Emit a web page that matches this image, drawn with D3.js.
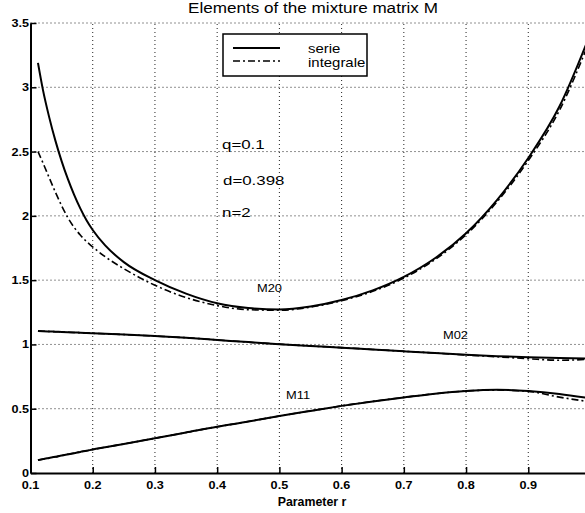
<!DOCTYPE html>
<html>
<head>
<meta charset="utf-8">
<script src="https://cdn.jsdelivr.net/npm/d3@7"></script>
<style>
  html, body { margin: 0; padding: 0; background: #fff; }
  svg { display: block; }
  text { font-family: "Liberation Sans", Arial, Helvetica, sans-serif; fill: #000; }
</style>
</head>
<body>
<script>
// ---- data ----
const rValues = [0.112, 0.12, 0.13, 0.14, 0.15, 0.16, 0.17, 0.18, 0.19, 0.2, 0.22, 0.25, 0.3, 0.35, 0.4, 0.45, 0.5, 0.55, 0.6, 0.65, 0.7, 0.75, 0.8, 0.85, 0.9, 0.95, 1.0];
const m20Serie = [3.19, 2.98, 2.768, 2.585, 2.426, 2.287, 2.165, 2.058, 1.966, 1.89, 1.77, 1.64, 1.50, 1.395, 1.32, 1.283, 1.272, 1.295, 1.345, 1.42, 1.525, 1.67, 1.865, 2.125, 2.45, 2.85, 3.42];
const m20Integrale = [2.50, 2.412, 2.297, 2.184, 2.079, 1.986, 1.911, 1.851, 1.801, 1.758, 1.682, 1.589, 1.46, 1.365, 1.302, 1.27, 1.266, 1.29, 1.34, 1.413, 1.516, 1.66, 1.853, 2.11, 2.43, 2.82, 3.38];
const m02Serie = [1.105, 1.103, 1.101, 1.099, 1.097, 1.095, 1.093, 1.091, 1.089, 1.087, 1.083, 1.077, 1.065, 1.052, 1.035, 1.018, 1.002, 0.988, 0.975, 0.961, 0.947, 0.933, 0.92, 0.909, 0.90, 0.894, 0.89];
const m02Integrale = [1.105, 1.103, 1.101, 1.099, 1.097, 1.095, 1.093, 1.091, 1.089, 1.087, 1.083, 1.077, 1.065, 1.052, 1.035, 1.018, 1.002, 0.988, 0.975, 0.961, 0.947, 0.933, 0.918, 0.904, 0.889, 0.877, 0.885];
const m11Serie = [0.10, 0.108, 0.117, 0.126, 0.136, 0.145, 0.154, 0.164, 0.173, 0.183, 0.20, 0.226, 0.27, 0.315, 0.36, 0.40, 0.443, 0.483, 0.522, 0.557, 0.588, 0.617, 0.638, 0.647, 0.638, 0.615, 0.58];
const m11Integrale = [0.10, 0.108, 0.117, 0.126, 0.136, 0.145, 0.154, 0.164, 0.173, 0.183, 0.20, 0.226, 0.27, 0.315, 0.36, 0.40, 0.443, 0.483, 0.522, 0.557, 0.588, 0.617, 0.638, 0.645, 0.635, 0.59, 0.553];
const xTicks = [0.1, 0.2, 0.3, 0.4, 0.5, 0.6, 0.7, 0.8, 0.9, 1.0];
const xTickLabels = ["0.1", "0.2", "0.3", "0.4", "0.5", "0.6", "0.7", "0.8", "0.9", "1"];
const yTicks = [0, 0.5, 1, 1.5, 2, 2.5, 3, 3.5];
const yTickLabels = ["0", "0.5", "1", "1.5", "2", "2.5", "3", "3.5"];
const seriesNames = ["serie", "integrale"];
const curveLabels = ["M20", "M02", "M11"];
const paramTexts = ["q=0.1", "d=0.398", "n=2"];
const titleText = "Elements of the mixture matrix M";
const xLabelText = "Parameter r";

// ---- layout ----
const W = 585, H = 513;
const x = d3.scaleLinear().domain([0.1, 1.0]).range([30.5, 590.5]);
const y = d3.scaleLinear().domain([0, 3.5]).range([473, 23]);
const SX = 1.15; // horizontal stretch of the scanned lettering

const svg = d3.select("body").append("svg").attr("width", W).attr("height", H);

function label(txt, px, py, size, anchor, weight, sx) {
  const g = svg.append("g").attr("transform", `translate(${px},${py}) scale(${sx || SX},1)`);
  g.append("text").attr("text-anchor", anchor || "start")
    .attr("font-size", size).attr("font-weight", weight || "normal").text(txt);
  return g;
}

// grid
const grid = svg.append("g").attr("stroke", "#222").attr("stroke-width", 1).attr("stroke-dasharray", "1,3");
grid.selectAll("line.v").data(xTicks.slice(1)).enter().append("line")
  .attr("x1", d => x(d)).attr("x2", d => x(d)).attr("y1", y(0)).attr("y2", y(3.5));
grid.selectAll("line.h").data(yTicks.slice(1)).enter().append("line")
  .attr("y1", d => y(d)).attr("y2", d => y(d)).attr("x1", x(0.1)).attr("x2", x(1.0));

// axes via d3
const xAxis = d3.axisBottom(x).tickValues(xTicks).tickSizeInner(-6).tickSizeOuter(0).tickFormat("");
const yAxis = d3.axisLeft(y).tickValues(yTicks).tickSizeInner(-6).tickSizeOuter(0).tickFormat("");
const gx = svg.append("g").attr("transform", `translate(0,${y(0)})`).call(xAxis);
const gy = svg.append("g").attr("transform", `translate(${x(0.1)},0)`).call(yAxis);
[gx, gy].forEach(g => {
  g.select(".domain").attr("stroke", "#000").attr("stroke-width", 2);
  g.selectAll(".tick line").attr("stroke", "#000").attr("stroke-width", 1.5);
});

// tick labels
xTicks.forEach((t, i) => { if (x(t) < W) label(xTickLabels[i], x(t), 489, 11, "middle", "bold"); });
yTicks.forEach((t, i) => label(yTickLabels[i], 29, y(t) + 4, 11, "end", "bold"));

// curves
const line = d3.line().x((d, i) => x(rValues[i])).y(d => y(d)).curve(d3.curveMonotoneX);
const integ = [m20Integrale, m02Integrale, m11Integrale];
const serie = [m20Serie, m02Serie, m11Serie];
integ.forEach(s => svg.append("path").attr("d", line(s)).attr("fill", "none")
  .attr("stroke", "#000").attr("stroke-width", 1.6).attr("stroke-dasharray", "7,3,2,3"));
serie.forEach(s => svg.append("path").attr("d", line(s)).attr("fill", "none")
  .attr("stroke", "#000").attr("stroke-width", 2));

// title and axis label
label(titleText, 313, 13, 15, "middle", "normal", 1.14);
label(xLabelText, 312, 506, 12, "middle", "bold", 1.03);

// legend
svg.append("rect").attr("x", 223).attr("y", 34).attr("width", 144).attr("height", 42)
  .attr("fill", "#fff").attr("stroke", "#000").attr("stroke-width", 1.5);
svg.append("line").attr("x1", 233).attr("x2", 280).attr("y1", 48).attr("y2", 48)
  .attr("stroke", "#000").attr("stroke-width", 2);
svg.append("line").attr("x1", 233).attr("x2", 280).attr("y1", 61).attr("y2", 61)
  .attr("stroke", "#000").attr("stroke-width", 1.6).attr("stroke-dasharray", "7,3,2,3");
label(seriesNames[0], 308, 52.5, 13, "start", "normal", 1.15);
label(seriesNames[1], 308, 66.5, 13, "start", "normal", 1.15);

// parameter annotations
label(paramTexts[0], 222, 149, 13.5, "start", "normal", 1.25);
label(paramTexts[1], 223, 185, 13.5, "start", "normal", 1.25);
label(paramTexts[2], 222, 217, 13.5, "start", "normal", 1.25);

// curve labels
label(curveLabels[0], 257, 292, 11.5, "start", "normal", 1.12);
label(curveLabels[1], 443, 339, 11.5, "start", "normal", 1.12);
label(curveLabels[2], 286, 399, 11.5, "start", "normal", 1.12);
</script>
</body>
</html>
